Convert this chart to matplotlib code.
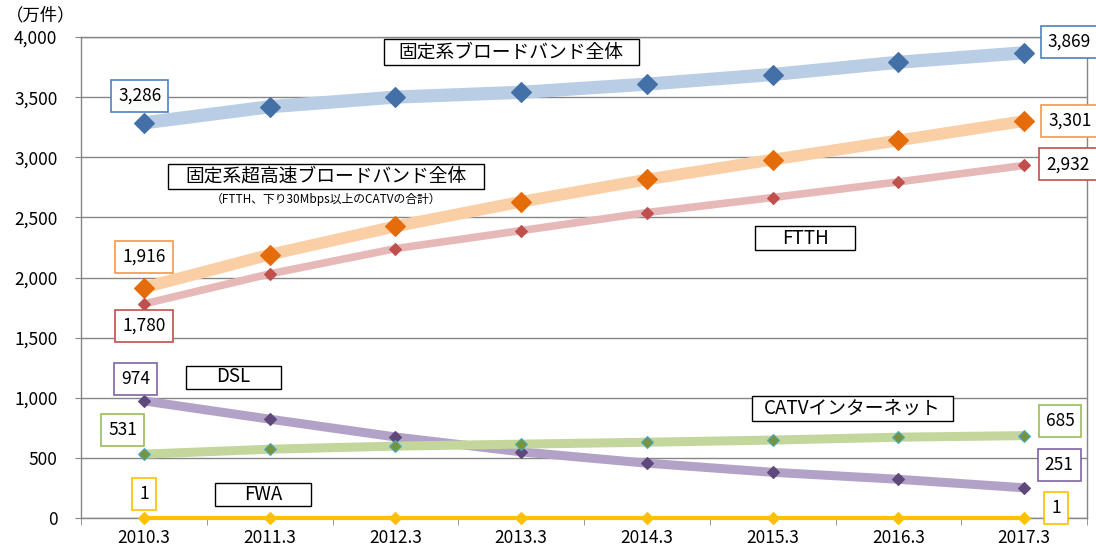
import matplotlib
matplotlib.use("Agg")
import matplotlib.pyplot as plt
from matplotlib.patches import Rectangle

plt.rcParams['font.family'] = ['Noto Sans CJK JP', 'DejaVu Sans']

# data (万件)
years = ["2010.3", "2011.3", "2012.3", "2013.3", "2014.3", "2015.3", "2016.3", "2017.3"]
broadband_total = [3286, 3420, 3500, 3540, 3608, 3688, 3790, 3869]
ultra_total = [1916, 2190, 2425, 2630, 2815, 2980, 3140, 3301]
ftth = [1780, 2030, 2240, 2390, 2540, 2665, 2795, 2932]
dsl = [974, 822, 674, 550, 456, 380, 322, 251]
catv = [531, 572, 598, 614, 630, 648, 672, 685]
fwa = [1, 1, 1, 1, 1, 1, 1, 1]

W, H = 1096, 552
fig = plt.figure(figsize=(W / 100, H / 100), dpi=100)
ax = fig.add_axes([81 / W, 1 - 518 / H, (1087 - 81) / W, (518 - 37) / H])

x = list(range(len(years)))

# (values, line colour, line width, marker colour, marker edge, marker size, box colour, first offset, last offset)
series = [
    (broadband_total, "#B9CDE5", 9.5, "#4470A8", "#4470A8", 10, "#4F81BD", (-4, 27), (45, 11)),
    (ultra_total, "#FBCFA5", 8.5, "#E46C0A", "#E46C0A", 10, "#F79646", (0, 31), (46, 0)),
    (ftth, "#E6B9B8", 5.5, "#C0504D", "#C0504D", 6, "#C0504D", (0, -22), (44, 1)),
    (dsl, "#B3A2C7", 6.5, "#5F497A", "#5F497A", 6.5, "#8064A2", (-8, 22), (35, 23)),
    (catv, "#C3D69B", 6.5, "#77933C", "#4BACC6", 6.5, "#9BBB59", (-21, 24), (36, 15)),
    (fwa, "#FFC000", 3, "#FFC000", "#FFC000", 6, "#FFC000", (0, 24), (32, 10)),
]

for vals, lc, lw, mc, me, ms, bc, off0, off1 in series:
    ax.plot(x, vals, color=lc, lw=lw, solid_capstyle='butt', zorder=3, clip_on=False)
    ax.plot(x, vals, ls='none', marker='D', ms=ms, mfc=mc, mec=me, mew=0.8,
            zorder=4, clip_on=False)
    for i, off in ((0, off0), (len(x) - 1, off1)):
        ax.annotate(f"{vals[i]:,}", (x[i], vals[i]), xytext=off,
                    textcoords='offset pixels', ha='center', va='center',
                    fontsize=12.5, zorder=6, annotation_clip=False,
                    bbox=dict(boxstyle='square,pad=0.4', fc='white', ec=bc, lw=1.2))

ax.set_xlim(-0.5, len(years) - 0.5)
ax.set_ylim(0, 4000)
ax.set_yticks(range(0, 4001, 500))
ax.set_yticklabels([f"{v:,}" for v in range(0, 4001, 500)], fontsize=12.5)
ax.set_xticks(x)
ax.set_xticklabels(years, fontsize=12.5)
ax.set_xticks([i - 0.5 for i in range(len(years) + 1)], minor=True)
ax.tick_params(axis='x', which='major', length=0, pad=8)
ax.tick_params(axis='x', which='minor', length=5, color='#868686', direction='out')
ax.tick_params(axis='y', length=4, color='#868686', pad=13)
ax.grid(axis='y', color='#868686', lw=1)
ax.set_axisbelow(True)
for s in ax.spines.values():
    s.set_color('#868686')
    s.set_linewidth(1)

fig.text(6 / W, 1 - 15 / H, "（万件）", fontsize=12.5, ha='left', va='center')


def name_box(cx, cy, w, h, label, fs=13.5):
    fig.add_artist(Rectangle(((cx - w / 2) / W, 1 - (cy + h / 2) / H), w / W, h / H,
                             transform=fig.transFigure, fc='white', ec='black', lw=1, zorder=5))
    fig.text(cx / W, 1 - cy / H, label, fontsize=fs, ha='center', va='center', zorder=6)


name_box(511, 52, 255, 26, "固定系ブロードバンド全体")
name_box(326, 176, 316, 25, "固定系超高速ブロードバンド全体")
fig.text(326 / W, 1 - 199 / H, "（FTTH、下り30Mbps以上のCATVの合計）", fontsize=8.5,
         ha='center', va='center')
name_box(805, 238, 100, 24, "FTTH")
name_box(233, 377, 95, 23, "DSL")
name_box(852, 408, 201, 25, "CATVインターネット")
name_box(263, 494, 96, 23, "FWA")

fig.savefig("out.png", dpi=100)
